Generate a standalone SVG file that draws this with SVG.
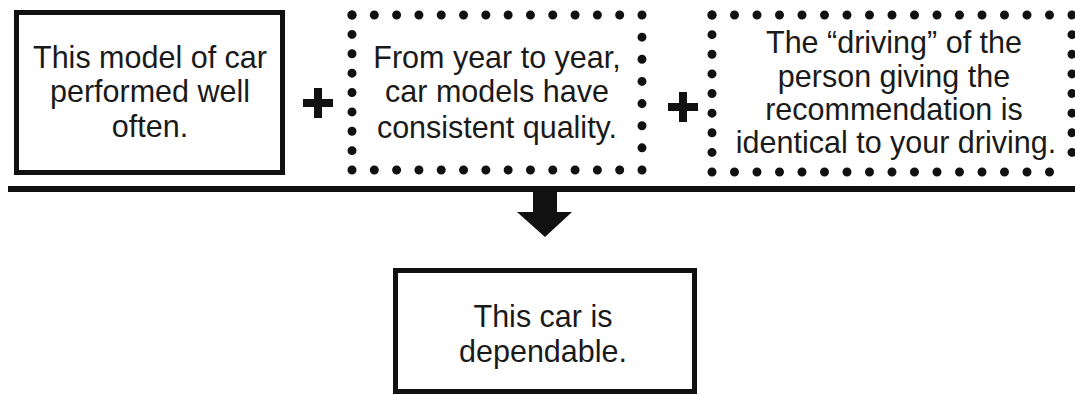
<svg xmlns="http://www.w3.org/2000/svg" width="1075" height="395" viewBox="0 0 1075 395">
<style>
.box{fill:none;stroke:#111;stroke-width:5}
.dot{fill:none;stroke:#111;stroke-width:9;stroke-linecap:round;stroke-dasharray:0 1}
.t{font-family:"Liberation Sans",Arial,sans-serif;font-size:30.5px;fill:#1a1a1a;text-anchor:middle}
.solid{fill:#111}
</style>
<rect width="1075" height="395" fill="#fff"/>
<g id="premise1">
<rect class="box" x="16.5" y="12.5" width="266" height="160"/>
<text class="t" x="150" y="68">This model of car</text>
<text class="t" x="150" y="102">performed well</text>
<text class="t" x="150" y="137">often.</text>
</g>
<g id="plus1">
<path class="solid" d="M314 88h8v11h11v8h-11v11h-8v-11h-11v-8h11z"/>
</g>
<g id="premise2">
<line class="dot" x1="352" y1="15" x2="642" y2="15" pathLength="13"/>
<line class="dot" x1="352" y1="170" x2="642" y2="170" pathLength="13"/>
<line class="dot" x1="352" y1="15" x2="352" y2="170" pathLength="8"/>
<line class="dot" x1="642" y1="15" x2="642" y2="170" pathLength="7"/>
<text class="t" x="497" y="68">From year to year,</text>
<text class="t" x="497" y="102">car models have</text>
<text class="t" x="497" y="138">consistent quality.</text>
</g>
<g id="plus2">
<path class="solid" d="M679 92h8v11h11v8h-11v11h-8v-11h-11v-8h11z"/>
</g>
<g id="premise3">
<line class="dot" x1="712" y1="15" x2="1072" y2="15" pathLength="16"/>
<line class="dot" x1="712" y1="172" x2="1072" y2="172" pathLength="16"/>
<line class="dot" x1="712" y1="15" x2="712" y2="172" pathLength="8"/>
<line class="dot" x1="1072" y1="15" x2="1072" y2="172" pathLength="8"/>
<text class="t" x="894" y="53">The “driving” of the</text>
<text class="t" x="894" y="87">person giving the</text>
<text class="t" x="894" y="120">recommendation is</text>
<text class="t" x="896" y="153">identical to your driving.</text>
</g>
<g id="connectors">
<rect class="solid" x="8" y="186" width="1067" height="6"/>
<path class="solid" d="M533 190h24v22h15l-27 25l-28-25h16z"/>
</g>
<g id="conclusion">
<rect class="box" x="395.5" y="270.5" width="299" height="121"/>
<text class="t" x="543" y="327">This car is</text>
<text class="t" x="543" y="362">dependable.</text>
</g>
</svg>
